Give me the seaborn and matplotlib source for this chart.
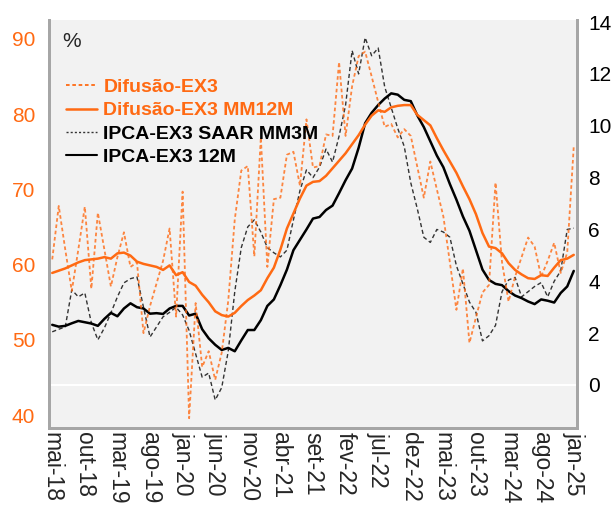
import matplotlib
matplotlib.use("Agg")
import matplotlib.pyplot as plt
import numpy as np
import pandas as pd
import seaborn as sns
from matplotlib.lines import Line2D

# =========================
# Data (monthly, mai-18 .. jan-25)
# =========================
difusao = [60.7, 67.8, 62.0, 56.5, 62.0, 67.7, 56.8, 66.9, 62.0, 57.1,
           61.0, 64.3, 59.7, 60.3, 50.9, 54.5, 57.5, 60.5, 64.8, 53.1,
           69.7, 39.6, 54.9, 46.4, 48.5, 44.7, 48.3, 55.2, 66.0, 72.5,
           73.1, 61.1, 76.9, 59.7, 68.7, 68.9, 74.6, 75.0, 70.5, 79.3,
           72.9, 73.1, 77.3, 77.1, 86.9, 77.1, 83.7, 87.7, 88.3, 85.0,
           81.6, 78.3, 78.7, 76.9, 78.0, 77.1, 73.0, 68.9, 73.7, 70.0,
           66.4, 60.3, 54.0, 59.5, 49.6, 53.0, 56.3, 57.3, 70.9, 60.3,
           55.1, 58.4, 61.0, 63.6, 62.4, 58.4, 60.5, 62.9, 58.9, 61.6,
           75.7]
difusao_mm12 = [58.9, 59.2, 59.5, 59.9, 60.3, 60.6, 60.7, 60.8, 61.0, 60.8,
                61.5, 61.6, 61.2, 60.4, 60.1, 59.9, 59.7, 59.3, 59.9, 58.6,
                59.0, 57.7, 57.2, 56.0, 55.0, 53.8, 53.3, 53.1, 53.6, 54.5,
                55.3, 55.9, 56.6, 58.2, 59.6, 62.0, 64.8, 66.8, 68.8, 70.5,
                71.0, 71.1, 71.8, 72.8, 73.8, 74.8, 76.0, 77.2, 78.6, 79.8,
                80.5, 80.3, 80.9, 81.1, 81.2, 81.2, 79.9, 79.2, 78.5, 76.8,
                75.2, 73.7, 72.2, 70.4, 68.7, 66.7, 64.2, 62.4, 62.2, 61.5,
                60.2, 59.3, 58.7, 58.2, 58.1, 58.6, 58.5, 59.6, 60.6, 60.8,
                61.3]
ipca_saar = [2.05, 2.15, 2.24, 3.67, 3.40, 3.55, 2.40, 1.74, 2.20, 2.78,
             3.40, 3.94, 4.10, 4.17, 3.00, 1.85, 2.24, 2.63, 2.80, 3.00,
             2.70, 2.10, 1.20, 0.30, 0.46, -0.58, -0.10, 1.30, 3.60, 5.30,
             6.10, 6.37, 5.90, 5.30, 5.10, 4.94, 5.20, 6.37, 7.50, 8.30,
             8.00, 8.40, 9.10, 8.60, 9.60, 10.8, 12.9, 12.0, 13.4, 12.7,
             13.0, 11.5, 10.7, 9.90, 9.20, 7.80, 6.80, 5.70, 5.50, 6.00,
             5.90, 5.70, 4.60, 3.90, 3.20, 2.80, 1.70, 1.90, 2.30, 3.60,
             4.05, 4.15, 3.40, 3.60, 3.80, 3.95, 3.40, 4.00, 4.40, 6.00,
             6.05]
ipca_12m = [2.32, 2.25, 2.28, 2.38, 2.47, 2.42, 2.37, 2.28, 2.55, 2.78,
            2.65, 2.95, 3.15, 3.00, 2.95, 2.75, 2.77, 2.74, 2.95, 3.05,
            3.05, 2.68, 2.75, 2.15, 1.80, 1.55, 1.35, 1.43, 1.30, 1.72,
            2.12, 2.12, 2.50, 3.05, 3.30, 3.85, 4.45, 5.20, 5.60, 6.00,
            6.42, 6.48, 6.75, 6.92, 7.40, 7.90, 8.35, 9.15, 10.1, 10.5,
            10.8, 11.05, 11.25, 11.2, 11.0, 10.95, 10.4, 9.95, 9.40, 8.85,
            8.40, 7.75, 7.15, 6.50, 5.95, 5.20, 4.45, 4.05, 3.90, 3.85,
            3.62, 3.45, 3.35, 3.22, 3.12, 3.30, 3.25, 3.18, 3.55, 3.80,
            4.40]
tick_labels = ["mai-18", "out-18", "mar-19", "ago-19", "jan-20", "jun-20",
               "nov-20", "abr-21", "set-21", "fev-22", "jul-22", "dez-22",
               "mai-23", "out-23", "mar-24", "ago-24", "jan-25"]

df = pd.DataFrame({
    "t": np.arange(len(difusao)),
    "Difusão-EX3": difusao,
    "Difusão-EX3 MM12M": difusao_mm12,
    "IPCA-EX3 SAAR MM3M": ipca_saar,
    "IPCA-EX3 12M": ipca_12m,
})

# ========================
# PLOT
# ========================
sns.set_style("white")
plt.rcParams["font.family"] = ["Liberation Sans", "DejaVu Sans"]

orange = "#ff6a13"
grey_bg = "#f2f2f2"
spine_c = "#a6a6a6"

fig = plt.figure(figsize=(6.16, 5.08), dpi=100)
ax = fig.add_axes([0.0795, 0.1575, 0.8572, 0.8031])
ax2 = ax.twinx()
# left axis (orange) drawn over right one, grey background on the back axes
ax.set_zorder(ax2.get_zorder() + 1)
ax.patch.set_visible(False)
ax2.patch.set_visible(True)
ax2.patch.set_facecolor(grey_bg)

ax2.axhline(0, color="white", lw=1.5, zorder=0.5)

sns.lineplot(data=df, x="t", y="IPCA-EX3 SAAR MM3M", ax=ax2, color="#333333",
             lw=1.0, linestyle=(0, (3, 2)))
sns.lineplot(data=df, x="t", y="IPCA-EX3 12M", ax=ax2, color="black", lw=1.8)
sns.lineplot(data=df, x="t", y="Difusão-EX3", ax=ax, color=orange, lw=1.3,
             alpha=0.8, linestyle=(0, (2, 1.5)))
sns.lineplot(data=df, x="t", y="Difusão-EX3 MM12M", ax=ax, color=orange, lw=1.8)

ax.set_xlim(-0.5, 80.5)
ax.set_ylim(38.3, 92.5)
ax2.set_ylim(-1.66, 14.08)
ax.set_yticks(range(40, 91, 10))
ax2.set_yticks(range(0, 15, 2))
ax.set_xticks(range(0, 81, 5))
ax.set_xticklabels(tick_labels, rotation=-90)
for a in (ax, ax2):
    a.set_xlabel("")
    a.set_ylabel("")
ax.tick_params(axis="y", colors=orange, labelsize=15, length=0, pad=10)
ax2.tick_params(axis="y", colors="black", labelsize=15, length=0, pad=8)
ax.tick_params(axis="x", labelsize=16.5, length=0, pad=3)

for a in (ax, ax2):
    a.spines["top"].set_visible(False)
    for s in ("left", "right", "bottom"):
        a.spines[s].set_color(spine_c)
        a.spines[s].set_linewidth(2)

ax.text(0.025, 0.947, "%", transform=ax.transAxes, fontsize=15,
        ha="left", va="center")

handles = [
    Line2D([], [], color=orange, lw=1.3, linestyle=(0, (2, 1.5))),
    Line2D([], [], color=orange, lw=1.8),
    Line2D([], [], color="#333333", lw=1.0, linestyle=(0, (1.5, 1.5))),
    Line2D([], [], color="black", lw=1.5),
]
labels = ["Difusão-EX3", "Difusão-EX3 MM12M", "IPCA-EX3 SAAR MM3M", "IPCA-EX3 12M"]
leg = ax.legend(handles, labels, loc="upper left", bbox_to_anchor=(0.0, 0.9),
                frameon=False, prop={"weight": "bold", "size": 14},
                handlelength=1.55, handletextpad=0.35, labelspacing=0.3)
for txt, c in zip(leg.get_texts(), [orange, orange, "black", "black"]):
    txt.set_color(c)

plt.savefig("out.png", dpi=100)
